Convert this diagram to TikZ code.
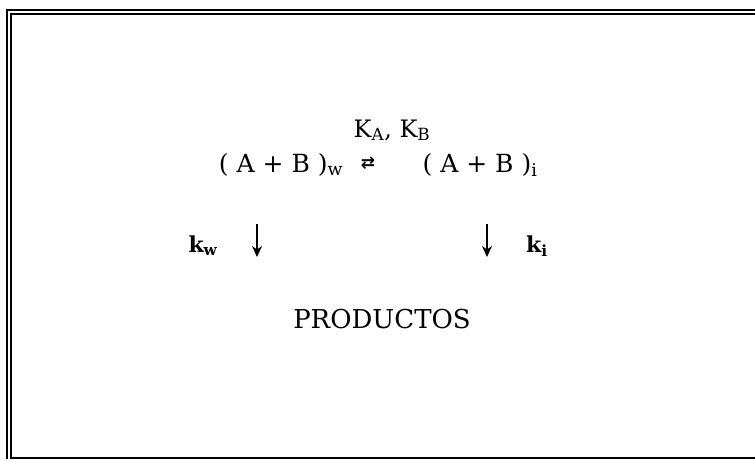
\documentclass[tikz,border=0pt]{standalone}
\usepackage{amsmath}
\usepackage{amssymb}
\usepackage{fontspec}
\setmainfont{DejaVu Serif}
\newfontfamily\symfont{DejaVu Sans}
\usetikzlibrary{arrows.meta, positioning}
\tikzset{
	frameline/.style={draw=black, line width=2.5pt},
	innerline/.style={draw=black, line width=1.5pt},
	eqtext/.style={inner sep=0pt, anchor=base, font=\fontsize{25}{29}\selectfont},
	ktext/.style={inner sep=0pt, anchor=base, font=\fontsize{24}{28}\selectfont},
	prodtext/.style={inner sep=0pt, anchor=base, font=\fontsize{26}{31}\selectfont},
	rxnarrow/.style={-{Stealth[length=11pt, width=10pt]}, line width=2.8pt},
}

\begin{document}
\begin{tikzpicture}[x=1pt, y=-1pt]
	\useasboundingbox (0,0) rectangle (755,459);
	% frame
	\draw[frameline] (7,459) -- (7,10) -- (755,10);
	\draw[innerline] (11,459) -- (11,14) -- (755,14);
	\draw[innerline] (11,458) -- (755,458);
	% equilibrium
	\node[ktext] (kab) at (392,137) {K\textsubscript{A}, K\textsubscript{B}};
	\node[eqtext] (abw) at (281,172) {( A + B )\textsubscript{w}};
	\node[eqtext, font=\fontsize{17}{20}\selectfont\symfont\bfseries] (eq) at (368,168) {⇄};
	\node[eqtext] (abi) at (480,172) {( A + B )\textsubscript{i}};
	% rate constants
	\node[ktext, font=\fontsize{22}{26}\selectfont\bfseries] (kw) at (203,252) {k\textsubscript{w}};
	\node[ktext, font=\fontsize{22}{26}\selectfont\bfseries] (ki) at (537,252) {k\textsubscript{i}};
	\coordinate (wtop) at (257,224);
	\coordinate (wbot) at (257,257);
	\coordinate (itop) at (487,224);
	\coordinate (ibot) at (487,257);
	\draw[rxnarrow] (wtop) -- (wbot);
	\draw[rxnarrow] (itop) -- (ibot);
	\node[prodtext] (prod) at (382,328) {PRODUCTOS};
\end{tikzpicture}
\end{document}
